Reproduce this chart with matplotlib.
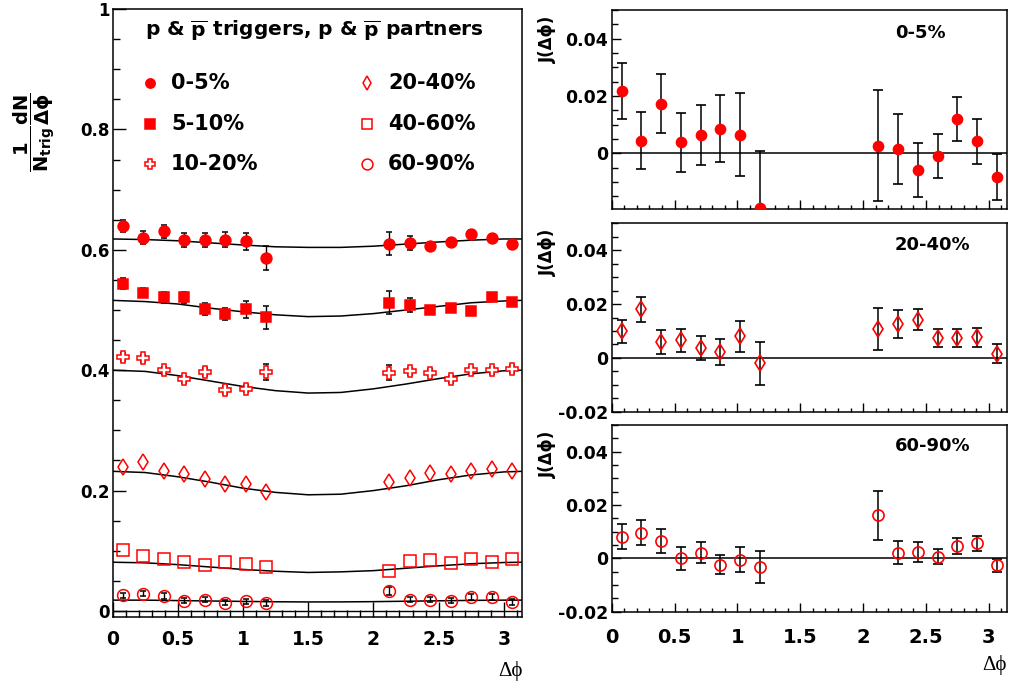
import matplotlib
matplotlib.use("Agg")
import matplotlib.pyplot as plt
from matplotlib.ticker import MultipleLocator, FuncFormatter

plt.rcParams['font.family'] = ['DejaVu Sans']
plt.rcParams['mathtext.fontset'] = 'dejavusans'

# bin centres in delta-phi (near side 0-1.25, away side 2.04-pi)
dphi = [0.079, 0.236, 0.393, 0.550, 0.707, 0.864, 1.021, 1.178,
        2.121, 2.278, 2.435, 2.592, 2.749, 2.906, 3.063]

# left panel: per-trigger yields (errors too small to show are left out)
y_0_5 = [0.639, 0.620, 0.631, 0.616, 0.616, 0.617, 0.614, 0.586,
         0.610, 0.611, 0.606, 0.613, 0.626, 0.620, 0.609]
e_0_5 = [0.010, 0.011, 0.011, 0.012, 0.012, 0.012, 0.014, 0.020,
         0.019, 0.012, 0.007, 0.007, 0.007, 0.007, 0.007]
y_5_10 = [0.544, 0.529, 0.521, 0.521, 0.502, 0.494, 0.501, 0.488,
          0.512, 0.508, 0.500, 0.503, 0.499, 0.522, 0.514]
e_5_10 = [0.009, 0.008, 0.009, 0.009, 0.010, 0.010, 0.014, 0.019,
          0.019, 0.012, 0.006, 0.006, 0.006, 0.006, 0.006]
y_10_20 = [0.422, 0.420, 0.400, 0.385, 0.397, 0.367, 0.369, 0.397,
           0.396, 0.398, 0.396, 0.385, 0.400, 0.400, 0.402]
e_10_20 = [0.006, 0.006, 0.006, 0.006, 0.006, 0.006, 0.006, 0.013,
           0.013, 0.006, 0.006, 0.006, 0.006, 0.006, 0.006]
y_20_40 = [0.240, 0.247, 0.232, 0.228, 0.219, 0.211, 0.211, 0.197,
           0.215, 0.221, 0.229, 0.228, 0.233, 0.236, 0.232]
y_40_60 = [0.102, 0.091, 0.086, 0.081, 0.077, 0.082, 0.078, 0.073,
           0.067, 0.083, 0.084, 0.079, 0.087, 0.082, 0.087]
y_60_90 = [0.026, 0.029, 0.025, 0.017, 0.019, 0.014, 0.016, 0.013,
           0.033, 0.019, 0.019, 0.017, 0.023, 0.023, 0.015]
e_60_90 = [0.0045, 0.0045, 0.0045, 0.0045, 0.0045, 0.0045, 0.0045, 0.0045,
           0.007, 0.0045, 0.0045, 0.0045, 0.0045, 0.0045, 0.0045]

# flow background curves
bg_x = [0.0, 0.25, 0.5, 0.75, 1.0, 1.25, 1.5, 1.75, 2.0, 2.25, 2.5, 2.75, 3.0, 3.1416]
bg_0_5 = [0.618, 0.617, 0.615, 0.6115, 0.608, 0.605, 0.604, 0.604,
          0.606, 0.6095, 0.613, 0.616, 0.618, 0.618]
bg_5_10 = [0.516, 0.514, 0.510, 0.503, 0.497, 0.492, 0.489, 0.490,
           0.494, 0.500, 0.506, 0.512, 0.515, 0.516]
bg_10_20 = [0.400, 0.398, 0.391, 0.382, 0.373, 0.366, 0.362, 0.363,
            0.369, 0.377, 0.386, 0.394, 0.399, 0.400]
bg_20_40 = [0.232, 0.230, 0.223, 0.214, 0.204, 0.197, 0.193, 0.194,
            0.200, 0.208, 0.218, 0.226, 0.231, 0.232]
bg_40_60 = [0.081, 0.080, 0.077, 0.073, 0.069, 0.066, 0.064, 0.065,
            0.067, 0.071, 0.075, 0.0785, 0.0805, 0.081]
bg_60_90 = [0.018, 0.018, 0.0173, 0.0166, 0.0159, 0.0153, 0.015, 0.0151,
            0.0155, 0.0162, 0.0169, 0.0176, 0.018, 0.018]

# right panels: jet-like residual J(dphi)
j_0_5 = [0.0217, 0.0044, 0.0173, 0.0038, 0.0064, 0.0086, 0.0064, -0.0193,
         0.0026, 0.0016, -0.0059, -0.0010, 0.0119, 0.0042, -0.0083]
je_0_5 = [0.0099, 0.0100, 0.0104, 0.0104, 0.0105, 0.0118, 0.0145, 0.0202,
          0.0193, 0.0122, 0.0093, 0.0078, 0.0076, 0.0079, 0.0080]
j_20_40 = [0.0099, 0.0181, 0.0059, 0.0065, 0.0037, 0.0022, 0.0080, -0.0020,
           0.0107, 0.0126, 0.0142, 0.0074, 0.0074, 0.0077, 0.0016]
je_20_40 = [0.0043, 0.0046, 0.0044, 0.0044, 0.0044, 0.0048, 0.0057, 0.0079,
            0.0077, 0.0051, 0.0040, 0.0034, 0.0032, 0.0035, 0.0035]
j_60_90 = [0.0081, 0.0096, 0.0065, 0.0000, 0.0021, -0.0024, -0.0005, -0.0034,
           0.0161, 0.0021, 0.0024, 0.0006, 0.0046, 0.0056, -0.0026]
je_60_90 = [0.0047, 0.0046, 0.0045, 0.0042, 0.0039, 0.0036, 0.0048, 0.0060,
            0.0092, 0.0044, 0.0038, 0.0029, 0.0030, 0.0027, 0.0025]

cent_labels = ["0-5%", "5-10%", "10-20%", "20-40%", "40-60%", "60-90%"]

RED = "#ff0000"
# marker, size, face for each centrality class
styles = [("o", 7.8, RED), ("s", 7.2, RED), ("P", 9, "white"),
          ("d", 8.6, "none"), ("s", 8.6, "none"), ("o", 8.5, "none")]
leg_styles = [("o", 6.7, RED), ("s", 6.5, RED), ("P", 7, "white"),
              ("d", 7.5, "none"), ("s", 7.8, "none"), ("o", 7.8, "none")]

fmt = FuncFormatter(lambda v, p: f"{v:g}")
PI = 3.14159265
SERIF = ["Liberation Serif", "DejaVu Serif"]

fig = plt.figure(figsize=(10.11, 6.88), dpi=100)

# ---------------- left panel ----------------
ax = fig.add_axes([0.1113, 0.1032, 0.4053, 0.8837])
ys = [y_0_5, y_5_10, y_10_20, y_20_40, y_40_60, y_60_90]
es = [e_0_5, e_5_10, e_10_20, None, None, e_60_90]
bgs = [bg_0_5, bg_5_10, bg_10_20, bg_20_40, bg_40_60, bg_60_90]
ax.axhline(0, color="k", lw=1.0)
for y, e, bg, (m, ms, fc) in zip(ys, es, bgs, styles):
    ax.plot(bg_x, bg, color="k", lw=1.1, zorder=1)
    ax.errorbar(dphi, y, yerr=e, fmt=m, ms=ms, mfc=fc, mec=RED, mew=1.1,
                ecolor="k", elinewidth=1.0, capsize=2.5, capthick=1.0, zorder=3)
ax.set_xlim(0, PI)
ax.set_ylim(-0.01, 1.0)
ax.xaxis.set_major_locator(MultipleLocator(0.5))
ax.xaxis.set_minor_locator(MultipleLocator(0.1))
ax.yaxis.set_major_locator(MultipleLocator(0.2))
ax.yaxis.set_minor_locator(MultipleLocator(0.05))
ax.xaxis.set_major_formatter(fmt)
ax.yaxis.set_major_formatter(fmt)
ax.tick_params(axis="y", which="major", direction="in", length=9.4, width=1.0,
               labelsize=12, pad=2)
ax.tick_params(axis="y", which="minor", direction="in", length=5, width=1.0)
ax.tick_params(axis="x", which="major", direction="in", length=11, width=1.0,
               labelsize=13.5, pad=9.5)
ax.tick_params(axis="x", which="minor", direction="in", length=5, width=1.0)
for lab in ax.get_xticklabels() + ax.get_yticklabels():
    lab.set_fontweight("bold")
for s in ax.spines.values():
    s.set_linewidth(1.1)
ax.text(1.0, -0.088, "Δϕ", transform=ax.transAxes, ha="right", va="center",
        fontsize=15, family=SERIF)
ax.text(-0.19, 0.798, r"$\mathbf{\dfrac{1}{N_{trig}}\dfrac{dN}{\Delta\phi}}$",
        transform=ax.transAxes, rotation=90, ha="center", va="center", fontsize=14)

# legend block
ax.text(0.079, 0.965,
        r"p & $\mathbf{\overline{p}}$ triggers, p & $\mathbf{\overline{p}}$ partners",
        transform=ax.transAxes, ha="left", va="center", fontsize=14.5,
        fontweight="bold")
leg_rows = [0.878, 0.811, 0.745]
for i, (lab, (m, ms, fc)) in enumerate(zip(cent_labels, leg_styles)):
    col, row = divmod(i, 3)
    mx = [0.0915, 0.621][col]
    tx = [0.143, 0.672][col]
    ax.plot([mx], [leg_rows[row]], m, ms=ms, mfc=fc, mec=RED, mew=1.1,
            transform=ax.transAxes, clip_on=False)
    ax.text(tx, leg_rows[row], lab, transform=ax.transAxes, ha="left",
            va="center", fontsize=15, fontweight="bold")

# ---------------- right panels ----------------
panels = [
    ([0.6050, 0.6962, 0.3907, 0.2892], (-0.0195, 0.05), j_0_5, je_0_5,
     ("o", 7.2, RED), "0-5%"),
    ([0.6050, 0.4016, 0.3907, 0.2738], (-0.02, 0.05), j_20_40, je_20_40,
     ("d", 8, "none"), "20-40%"),
    ([0.6050, 0.1109, 0.3907, 0.2714], (-0.02, 0.05), j_60_90, je_60_90,
     ("o", 8, "none"), "60-90%"),
]
for k, (pos, ylim, j, je, (m, ms, fc), lab) in enumerate(panels):
    a = fig.add_axes(pos)
    a.axhline(0, color="k", lw=1.1)
    a.errorbar(dphi, j, yerr=je, fmt=m, ms=ms, mfc=fc, mec=RED, mew=1.2,
               ecolor="k", elinewidth=1.1, capsize=3.5, capthick=1.0, zorder=3)
    a.set_xlim(0, PI)
    a.set_ylim(*ylim)
    a.xaxis.set_major_locator(MultipleLocator(0.5))
    a.xaxis.set_minor_locator(MultipleLocator(0.1))
    a.yaxis.set_major_locator(MultipleLocator(0.02))
    a.yaxis.set_minor_locator(MultipleLocator(0.005))
    a.xaxis.set_major_formatter(fmt)
    a.yaxis.set_major_formatter(fmt)
    a.tick_params(axis="y", which="major", direction="in", length=6.5, width=1.0,
                  labelsize=12.5, pad=2.5)
    a.tick_params(axis="y", which="minor", direction="in", length=4.3, width=1.0)
    a.tick_params(axis="x", which="major", direction="in", length=6.5, width=1.0,
                  labelsize=14, pad=12)
    a.tick_params(axis="x", which="minor", direction="in", length=3.2, width=1.0)
    if k < 2:
        a.tick_params(axis="x", labelbottom=False)
    for t in a.get_xticklabels() + a.get_yticklabels():
        t.set_fontweight("bold")
    for s in a.spines.values():
        s.set_linewidth(1.1)
    a.text(0.717, 0.885, lab, transform=a.transAxes, ha="left", va="center",
           fontsize=13, fontweight="bold")
    a.set_ylabel("J(Δϕ)", fontsize=12, fontweight="bold", loc="top")
    a.yaxis.set_label_coords(-0.138, 0.97)
    if k == 2:
        a.text(1.0, -0.285, "Δϕ", transform=a.transAxes, ha="right", va="center",
               fontsize=15, family=SERIF)

fig.savefig("out.png", dpi=100)
